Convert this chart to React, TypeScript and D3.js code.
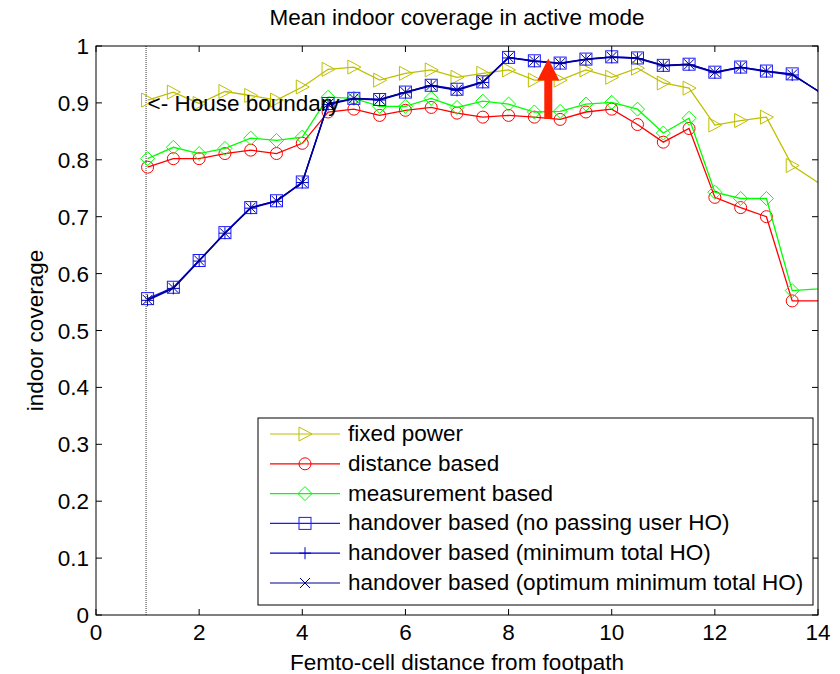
import React from "react";
import * as d3 from "d3";

const xs = [1, 1.5, 2, 2.5, 3, 3.5, 4, 4.5, 5, 5.5, 6, 6.5, 7, 7.5, 8, 8.5, 9, 9.5, 10, 10.5, 11, 11.5, 12, 12.5, 13, 13.5, 14.5];

const fixedPower = [0.905, 0.919, 0.899, 0.92, 0.913, 0.905, 0.928, 0.959, 0.963, 0.94, 0.952, 0.958, 0.945, 0.952, 0.958, 0.94, 0.94, 0.958, 0.945, 0.961, 0.935, 0.926, 0.861, 0.869, 0.875, 0.79, 0.73];
const distanceBased = [0.787, 0.802, 0.802, 0.811, 0.817, 0.811, 0.829, 0.884, 0.889, 0.878, 0.887, 0.892, 0.882, 0.875, 0.878, 0.875, 0.871, 0.884, 0.889, 0.862, 0.831, 0.855, 0.734, 0.716, 0.7, 0.552, 0.552];
const measurementBased = [0.802, 0.822, 0.811, 0.82, 0.838, 0.834, 0.84, 0.91, 0.908, 0.894, 0.894, 0.908, 0.892, 0.903, 0.898, 0.884, 0.885, 0.898, 0.901, 0.889, 0.847, 0.873, 0.743, 0.732, 0.732, 0.57, 0.576];
const hoNoPassing = [0.556, 0.576, 0.623, 0.672, 0.716, 0.728, 0.761, 0.899, 0.908, 0.906, 0.919, 0.931, 0.924, 0.937, 0.98, 0.974, 0.97, 0.977, 0.981, 0.979, 0.966, 0.968, 0.954, 0.963, 0.956, 0.951, 0.89];
const hoMinTotal = [0.553, 0.574, 0.622, 0.671, 0.715, 0.727, 0.76, 0.897, 0.907, 0.905, 0.918, 0.93, 0.922, 0.936, 0.979, 0.973, 0.969, 0.976, 0.98, 0.978, 0.965, 0.967, 0.953, 0.962, 0.955, 0.949, 0.894];
const hoOptimum = [0.554, 0.575, 0.623, 0.671, 0.716, 0.728, 0.76, 0.898, 0.908, 0.906, 0.919, 0.931, 0.923, 0.937, 0.98, 0.974, 0.97, 0.977, 0.981, 0.979, 0.966, 0.968, 0.954, 0.963, 0.956, 0.95, 0.892];

const seriesNames = [
  "fixed power",
  "distance based",
  "measurement based",
  "handover based (no passing user HO)",
  "handover based (minimum total HO)",
  "handover based (optimum minimum total HO)",
];
const xTicks = [0, 2, 4, 6, 8, 10, 12, 14];
const yTicks = [0, 0.1, 0.2, 0.3, 0.4, 0.5, 0.6, 0.7, 0.8, 0.9, 1];
const arrowX = 8.77;
const arrowFrom = 0.872;
const arrowTo = 0.978;

const W = 840, H = 674;
const L = 96, R = 818, T = 46, B = 615;
const FONT = "Liberation Sans, Arial, sans-serif";
const FS = 22.5;

type Marker = "tri" | "circle" | "diamond" | "square" | "plus" | "x";

const series = [
  { name: seriesNames[0], values: fixedPower, color: "#bfbf00", marker: "tri" as Marker },
  { name: seriesNames[1], values: distanceBased, color: "#ff0000", marker: "circle" as Marker },
  { name: seriesNames[2], values: measurementBased, color: "#00ff00", marker: "diamond" as Marker },
  { name: seriesNames[3], values: hoNoPassing, color: "#1a1aff", marker: "square" as Marker },
  { name: seriesNames[4], values: hoMinTotal, color: "#0000cc", marker: "plus" as Marker },
  { name: seriesNames[5], values: hoOptimum, color: "#00008b", marker: "x" as Marker },
];

function MarkerShape({ type, x, y, color }: { type: Marker; x: number; y: number; color: string }) {
  const sw = 1;
  switch (type) {
    case "tri":
      return <path d={`M${x - 6},${y - 7}L${x + 7},${y}L${x - 6},${y + 7}Z`} fill="none" stroke={color} strokeWidth={sw} />;
    case "circle":
      return <circle cx={x} cy={y} r={6} fill="none" stroke={color} strokeWidth={sw} />;
    case "diamond":
      return <path d={`M${x},${y - 7}L${x + 7},${y}L${x},${y + 7}L${x - 7},${y}Z`} fill="none" stroke={color} strokeWidth={sw} />;
    case "square":
      return <rect x={x - 6} y={y - 6} width={12} height={12} fill="none" stroke={color} strokeWidth={sw} />;
    case "plus":
      return <path d={`M${x - 6},${y}L${x + 6},${y}M${x},${y - 6}L${x},${y + 6}`} fill="none" stroke={color} strokeWidth={sw} />;
    case "x":
      return <path d={`M${x - 5},${y - 5}L${x + 5},${y + 5}M${x - 5},${y + 5}L${x + 5},${y - 5}`} fill="none" stroke={color} strokeWidth={sw} />;
  }
  return null;
}

export default function App() {
  const x = d3.scaleLinear().domain([0, 14]).range([L, R]);
  const y = d3.scaleLinear().domain([0, 1]).range([B, T]);
  const line = d3
    .line<[number, number]>()
    .x((d) => x(d[0]))
    .y((d) => y(d[1]));

  const legX = 258, legY = 418, legW = 555, legH = 187;
  const rowH = 29.8;

  const ax = x(arrowX);
  const ay0 = y(arrowFrom);
  const ay1 = y(arrowTo);

  return (
    <svg width={W} height={H} style={{ position: "absolute", left: 0, top: 0, background: "#fff" }}>
      <rect x={0} y={0} width={W} height={H} fill="#fff" />
      <defs>
        <clipPath id="plotclip">
          <rect x={L} y={T} width={R - L} height={B - T} />
        </clipPath>
      </defs>
      <text x={(L + R) / 2} y={25} textAnchor="middle" fontFamily={FONT} fontSize={FS} fill="#000">
        Mean indoor coverage in active mode
      </text>
      <line x1={x(1) - 1.5} x2={x(1) - 1.5} y1={T} y2={B} stroke="#000" strokeWidth={0.8} strokeDasharray="1,1" />
      <g clipPath="url(#plotclip)">
        {series.map((s, i) => {
          const pts = xs.map((xv, j) => [xv, s.values[j]] as [number, number]);
          return (
            <g key={i}>
              <path d={line(pts) || ""} fill="none" stroke={s.color} strokeWidth={1.3} />
              {pts.map((p, j) => (
                <MarkerShape key={j} type={s.marker} x={x(p[0])} y={y(p[1])} color={s.color} />
              ))}
            </g>
          );
        })}
      </g>
      <text x={x(1)} y={y(0.9) + 8} fontFamily={FONT} fontSize={FS} fill="#000">
        {"<- House boundary"}
      </text>
      <path
        d={`M${ax - 4},${ay0}L${ax - 4},${ay1 + 22}L${ax - 11},${ay1 + 22}L${ax},${ay1}L${ax + 11},${ay1 + 22}L${ax + 4},${ay1 + 22}L${ax + 4},${ay0}Z`}
        fill="#ff2200"
      />
      <rect x={L} y={T} width={R - L} height={B - T} fill="none" stroke="#000" strokeWidth={1} />
      {xTicks.map((t) => (
        <g key={"x" + t}>
          <line x1={x(t)} x2={x(t)} y1={B} y2={B - 6} stroke="#000" />
          <line x1={x(t)} x2={x(t)} y1={T} y2={T + 6} stroke="#000" />
          <text x={x(t)} y={640} textAnchor="middle" fontFamily={FONT} fontSize={FS} fill="#000">
            {t}
          </text>
        </g>
      ))}
      {yTicks.map((t) => (
        <g key={"y" + t}>
          <line x1={L} x2={L + 6} y1={y(t)} y2={y(t)} stroke="#000" />
          <line x1={R} x2={R - 6} y1={y(t)} y2={y(t)} stroke="#000" />
          <text x={L - 7} y={y(t) + 8} textAnchor="end" fontFamily={FONT} fontSize={FS} fill="#000">
            {d3.format("~g")(t)}
          </text>
        </g>
      ))}
      <text x={457} y={670} textAnchor="middle" fontFamily={FONT} fontSize={FS} fill="#000">
        Femto-cell distance from footpath
      </text>
      <text
        transform={`translate(43,${(T + B) / 2}) rotate(-90)`}
        textAnchor="middle"
        fontFamily={FONT}
        fontSize={FS}
        fill="#000"
      >
        indoor coverage
      </text>
      <rect x={legX} y={legY} width={legW} height={legH} fill="#fff" stroke="#000" strokeWidth={1} />
      {series.map((s, i) => {
        const cy = legY + 16 + i * rowH;
        return (
          <g key={"leg" + i}>
            <line x1={legX + 12} x2={legX + 82} y1={cy} y2={cy} stroke={s.color} strokeWidth={1.2} />
            <MarkerShape type={s.marker} x={legX + 47} y={cy} color={s.color} />
            <text x={legX + 90} y={cy + 7} fontFamily={FONT} fontSize={FS} fill="#000">
              {s.name}
            </text>
          </g>
        );
      })}
    </svg>
  );
}
